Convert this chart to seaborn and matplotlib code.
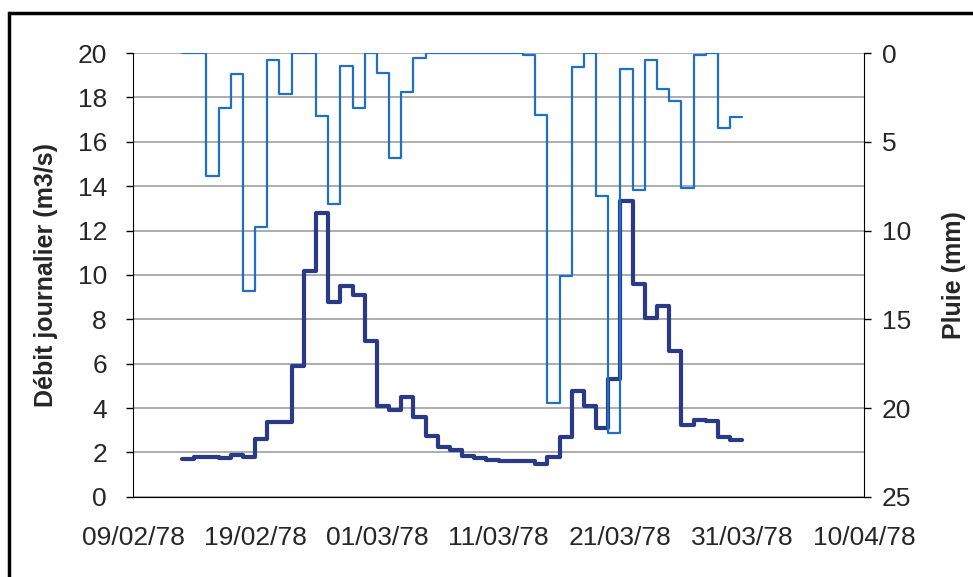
import pandas as pd
import numpy as np
import matplotlib.pyplot as plt
import matplotlib.dates as mdates
import seaborn as sns
from matplotlib.patches import Rectangle

# daily values, 13/02/78 -> 30/03/78
start_date = "1978-02-13"
debit = [1.7, 1.8, 1.8, 1.75, 1.9, 1.8, 2.6, 3.35, 3.35, 5.9, 10.2, 12.8, 8.8, 9.5, 9.1, 7.0,
         4.1, 3.9, 4.5, 3.6, 2.75, 2.25, 2.1, 1.85, 1.75, 1.65, 1.6, 1.6, 1.6, 1.5, 1.8, 2.7,
         4.75, 4.1, 3.1, 5.3, 13.35, 9.6, 8.05, 8.6, 6.55, 3.25, 3.45, 3.4, 2.7, 2.55]
pluie = [0, 0, 6.9, 3.1, 1.2, 13.4, 9.8, 0.4, 2.3, 0, 0, 3.55, 8.5, 0.7, 3.1, 0,
         1.15, 5.9, 2.2, 0.25, 0, 0, 0, 0, 0, 0, 0, 0, 0.1, 3.5, 19.7, 12.55,
         0.8, 0, 8.05, 21.4, 0.9, 7.7, 0.4, 2.0, 2.7, 7.6, 0.1, 0, 4.2, 3.6]
tick_dates = pd.date_range("1978-02-09", "1978-04-10", freq="10D")

# one extra point so the last day gets its full step
dates = pd.date_range(start_date, periods=len(debit) + 1, freq="D")
df = pd.DataFrame({"date": dates,
                   "debit": debit + [debit[-1]],
                   "pluie": pluie + [pluie[-1]]})

sns.set_style("white")
plt.rcParams["font.family"] = ["Liberation Sans Narrow", "Liberation Sans", "DejaVu Sans"]

fig = plt.figure(figsize=(9.73, 5.77), dpi=100)
ax = fig.add_axes([0.137, 0.139, 0.751, 0.769])
ax2 = ax.twinx()

sns.lineplot(data=df, x="date", y="debit", ax=ax, color="#2b3a86", linewidth=3.0,
             drawstyle="steps-post", zorder=3)
sns.lineplot(data=df, x="date", y="pluie", ax=ax2, color="#1f6fc6", linewidth=1.6,
             drawstyle="steps-post")

ax.set_xlim(tick_dates[0], tick_dates[-1])
ax.set_ylim(0, 20)
ax.set_yticks(np.arange(0, 21, 2))
ax.set_xticks(tick_dates)
ax.xaxis.set_major_formatter(mdates.DateFormatter("%d/%m/%y"))
ax.grid(axis="y", color="#a0a0a0", linewidth=1.2)
ax.set_axisbelow(True)

ax2.set_ylim(25, 0)
ax2.set_yticks(np.arange(0, 26, 5))

for a in (ax, ax2):
    for s in a.spines.values():
        s.set_visible(False)
    a.tick_params(labelsize=19, length=5, width=1, color="black")
ax.spines["left"].set_visible(True)
ax.spines["bottom"].set_visible(True)
ax2.spines["right"].set_visible(True)
for s in ("left", "bottom"):
    ax.spines[s].set_color("black")
ax2.spines["right"].set_color("black")
ax.tick_params(axis="x", pad=16)
ax.tick_params(axis="y", pad=14)
ax2.tick_params(axis="y", pad=8)

ax.set_xlabel("")
ax.set_ylabel("Débit journalier (m3/s)", fontsize=18, fontweight="bold", labelpad=14)
ax2.set_ylabel("Pluie (mm)", fontsize=18, fontweight="bold", labelpad=22)

fig.patches.append(Rectangle((0.009, -0.05), 1.2, 1.028, transform=fig.transFigure,
                             fill=False, edgecolor="black", linewidth=2.5))

fig.savefig("out.png", dpi=100)
